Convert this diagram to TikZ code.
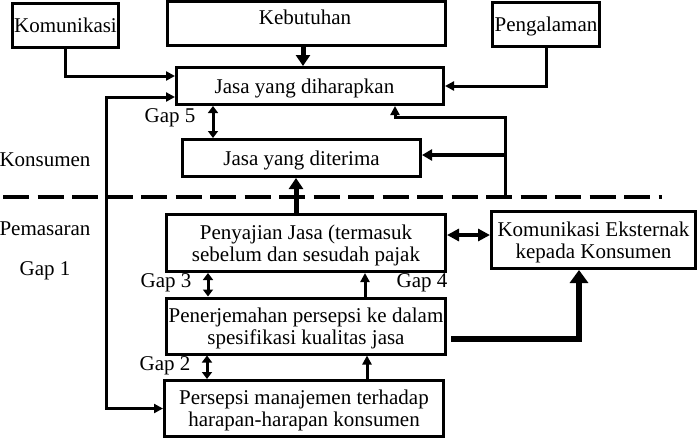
\documentclass[tikz,border=0pt]{standalone}
\usepackage{fontspec}
\setmainfont{Liberation Serif}
\usetikzlibrary{arrows.meta,calc}
\begin{document}
\begin{tikzpicture}[x=1pt,y=-1pt,
  every node/.style={font=\fontsize{21}{22}\selectfont},
  box/.style={draw, line width=3pt, inner sep=0pt, align=center, text depth=0pt},
  lbl/.style={inner sep=0pt},
  conn/.style={line width=3pt, -{Triangle[length=9pt,width=9pt]}},
  dconn/.style={line width=3pt, {Triangle[length=7pt,width=10pt]}-{Triangle[length=7pt,width=10pt]}},
  bconn/.style={line width=5pt, -{Triangle[length=11pt,width=14pt]}}
]
\useasboundingbox (0,0) rectangle (699,440);

% boxes
\node[box, minimum width=106pt, minimum height=44pt] (kom) at (65.5,25) {Komunikasi};
\node[box, minimum width=278pt, minimum height=44pt] (keb) at (306.5,23.5) {};
\node[lbl] (kebt) at (305,17) {Kebutuhan};
\node[box, minimum width=107pt, minimum height=44pt] (peng) at (546,24) {Pengalaman};
\node[box, minimum width=267pt, minimum height=37pt] (harap) at (310,86) {Jasa yang diharapkan\hspace{11pt}};
\node[box, minimum width=238pt, minimum height=37pt] (terima) at (301.5,158) {Jasa yang diterima};
\node[box, minimum width=279pt, minimum height=57pt] (saji) at (306,243) {Penyajian Jasa (termasuk\\sebelum dan sesudah pajak};
\node[box, minimum width=204pt, minimum height=57pt] (eks) at (593.5,240) {Komunikasi Eksternak\\kepada Konsumen};
\node[box, minimum width=279pt, minimum height=56pt] (jemah) at (306,326) {Penerjemahan persepsi ke dalam\\spesifikasi kualitas jasa};
\node[box, minimum width=279pt, minimum height=56pt] (persep) at (304,408.5) {Persepsi manajemen terhadap\\harapan-harapan konsumen};

% side labels
\node[lbl] (konsumen) at (45,160) {Konsumen};
\node[lbl] (pemasaran) at (45,229) {Pemasaran};
\node[lbl] (gap1) at (45,271) {Gap 1};
\node[lbl] (gap5) at (170,118) {Gap 5};
\node[lbl] (gap3) at (166,283) {Gap 3};
\node[lbl] (gap4) at (422,283) {Gap 4};
\node[lbl] (gap2) at (165,366) {Gap 2};

% dashed divider
\draw[line width=4pt, dash pattern=on 26pt off 8.5pt] (3,197) -- (662,197);

% connectors
\draw[conn] (kom.south) |- ([yshift=10pt]harap.west);
\draw[bconn] (keb.south -| 303,0) -- (harap.north -| 303,0);
\draw[conn] (peng.south) |- (harap.east);
\draw[line width=3pt, {Triangle[length=9pt,width=9pt]}-{Triangle[length=9pt,width=9pt]}]
  ([yshift=-11pt]harap.west) -| (106,250) |- (persep.west);
\draw[dconn] (harap.south -| 213,0) -- (terima.north -| 213,0);

\coordinate (rb) at (505,197);
\draw[conn] (rb) |- (395,117) -- (harap.south -| 395,0);
\draw[line width=4pt, -{Triangle[length=10pt,width=11pt]}] (rb |- 0,155) -- (terima.east |- 0,155);

\draw[bconn] (saji.north -| 296,0) -- (terima.south -| 296,0);
\draw[line width=4pt, {Triangle[length=12pt,width=12pt]}-{Triangle[length=12pt,width=12pt]}]
  (saji.east |- 0,235) -- (eks.west |- 0,235);

\draw[dconn] (saji.south -| 208,0) -- (jemah.north -| 208,0);
\draw[conn] (jemah.north -| 365,0) -- (saji.south -| 365,0);

\draw[line width=5.5pt, -{Triangle[length=13pt,width=18pt]}]
  ([xshift=4pt,yshift=-13pt]jemah.east) -| (eks.south -| 579,0);

\draw[dconn] (jemah.south -| 207,0) -- (persep.north -| 207,0);
\draw[conn] (persep.north -| 367,0) -- (jemah.south -| 367,0);
\end{tikzpicture}
\end{document}
